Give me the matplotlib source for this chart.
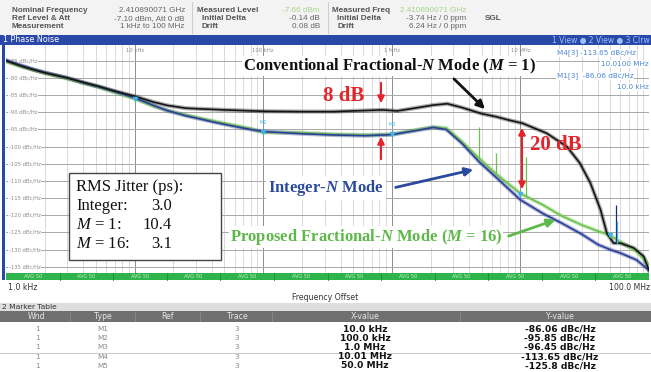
import numpy as np
import matplotlib
matplotlib.use("Agg")
import matplotlib.pyplot as plt
from matplotlib.patches import Rectangle
from matplotlib.transforms import blended_transform_factory
from matplotlib.ticker import LogLocator, NullFormatter

plt.rcParams['mathtext.fontset'] = 'custom'
plt.rcParams['mathtext.it'] = 'Liberation Serif:italic'
plt.rcParams['mathtext.bf'] = 'Liberation Serif:italic:bold'
plt.rcParams['mathtext.rm'] = 'Liberation Serif'

# ---------------- data ----------------
freq_conv = [1e3, 1.3e3, 1.6e3, 2e3, 3e3, 4e3, 5.3e3, 7e3, 1e4, 1.4e4, 1.8e4, 2.5e4,
             3.2e4, 5e4, 7e4, 1e5, 2e5, 3.5e5, 6e5, 8.5e5, 1.1e6, 1.5e6, 2.1e6, 2.7e6,
             3.5e6, 5e6, 6.5e6, 8e6, 1.04e7, 1.6e7, 2.3e7, 2.9e7, 3.5e7, 4.2e7, 4.7e7,
             5.3e7, 6e7, 7.6e7, 9.1e7, 1e8]
pn_conv = [-75.0, -76.5, -77.5, -78.5, -80.0, -81.3, -82.5, -83.8, -85.3, -87.0, -88.0, -88.8,
           -89.0, -89.3, -89.5, -89.7, -89.8, -89.8, -89.5, -89.3, -89.6, -88.8, -87.9, -87.5,
           -88.6, -90.4, -91.3, -92.2, -93.2, -96.1, -100.0, -104.8, -110.6, -118.4, -125.2,
           -128.1, -128.1, -129.5, -132.0, -136.0]

freq_m16 = [1e3, 1.3e3, 1.6e3, 2e3, 3e3, 4e3, 5.3e3, 7e3, 1e4, 1.4e4, 1.8e4, 2.5e4,
            3.2e4, 4.3e4, 5.8e4, 8e4, 1e5, 1.9e5, 3.5e5, 6.3e5, 1e6, 1.5e6, 2.1e6, 2.65e6,
            3.5e6, 4.8e6, 6.5e6, 1e7, 1.5e7, 2.1e7, 3e7, 4e7, 5e7, 6e7, 8e7, 1e8]
pn_m16 = [-75.2, -76.6, -77.6, -78.6, -80.2, -81.5, -82.7, -84.2, -86.06, -88.2, -89.5, -90.8,
          -91.7, -92.7, -93.7, -94.8, -95.85, -95.9, -96.4, -96.6, -96.45, -95.2, -94.3, -94.6,
          -98.5, -103.5, -108.0, -113.65, -117.0, -120.2, -122.8, -124.6, -125.8, -127.8, -130.5, -134.5]

freq_int = [1e3, 1.3e3, 1.6e3, 2e3, 3e3, 4e3, 5.3e3, 7e3, 1e4, 1.4e4, 1.8e4, 2.5e4,
            3.2e4, 4.3e4, 5.8e4, 8e4, 1e5, 1.9e5, 3.5e5, 6.3e5, 1e6, 1.5e6, 2.1e6, 2.65e6,
            3.5e6, 4.8e6, 6.5e6, 1e7, 1.5e7, 2.1e7, 3e7, 4e7, 5e7, 6e7, 8e7, 1e8]
pn_int = [-74.8, -76.3, -77.4, -78.4, -80.0, -81.4, -82.6, -84.0, -85.8, -88.0, -89.5, -91.0,
          -91.9, -93.0, -94.0, -95.0, -95.6, -96.2, -96.6, -96.8, -96.5, -95.4, -94.4, -95.0,
          -99.0, -104.5, -109.0, -115.5, -119.5, -122.3, -125.5, -128.5, -130.0, -131.0, -133.0, -136.0]

# spurs
spur_freq = [4.8e6, 6.5e6, 1.11e7, 5.5e7, 5.6e7]
spur_low = [-104.0, -108.0, -114.5, -128.0, -128.5]
spur_high = [-94.2, -101.8, -102.9, -117.0, -121.8]
spur_color = ['#6cc24e', '#6cc24e', '#6cc24e', '#1a2a7a', '#45b5e0']

# marker table
marker_names = ['M1', 'M2', 'M3', 'M4', 'M5']
marker_freq = [1e4, 1e5, 1e6, 1.001e7, 5e7]
marker_val = [-86.06, -95.85, -96.45, -113.65, -125.8]
marker_xlabels = ['10.0 kHz', '100.0 kHz', '1.0 MHz', '10.01 MHz', '50.0 MHz']
marker_ylabels = ['-86.06 dBc/Hz', '-95.85 dBc/Hz', '-96.45 dBc/Hz', '-113.65 dBc/Hz', '-125.8 dBc/Hz']

ytick_vals = [-75, -80, -85, -90, -95, -100, -105, -110, -115, -120, -125, -130, -135]
xtick_vals = [1e4, 1e5, 1e6, 1e7]
xtick_labels = ['10 kHz', '100 kHz', '1 MHz', '10 MHz']

jitter_labels = ['Integer:', '$M$ = 1:', '$M$ = 16:']
jitter_vals = [3.0, 10.4, 3.1]

# ---------------- figure ----------------
W, H = 651, 372
fig = plt.figure(figsize=(W / 100, H / 100), dpi=100)
fig.patch.set_facecolor('white')

AX_L, AX_R, AX_T, AX_B = 6, 649, 45, 273
ax = fig.add_axes([AX_L / W, 1 - AX_B / H, (AX_R - AX_L) / W, (AX_B - AX_T) / H])
ax.set_xscale('log')
ax.set_xlim(1e3, 1e8)
ax.set_ylim(-136.8, -70.4)
ax.set_xticks(xtick_vals)
ax.xaxis.set_minor_locator(LogLocator(base=10, subs=np.arange(2, 10)))
ax.xaxis.set_minor_formatter(NullFormatter())
ax.set_xticklabels([])
ax.set_yticks(ytick_vals)
ax.set_yticklabels([])
ax.tick_params(which='both', length=0)
ax.set_axisbelow(True)
ax.grid(True, which='major', axis='x', color='#8c8c8c', lw=0.7)
ax.grid(True, which='minor', axis='x', color='#d2d2d2', lw=0.6)
ax.grid(True, which='major', axis='y', color='#a8a8a8', lw=0.7)
for s in ax.spines.values():
    s.set_visible(False)

ytrans = blended_transform_factory(ax.transAxes, ax.transData)
for v in ytick_vals:
    ax.text(0.004, v, f"{v} dBc/Hz", transform=ytrans, fontsize=3.8, color='#8c8c8c',
            ha='left', va='center', zorder=1.5,
            bbox=dict(fc='white', ec='none', pad=0.4))
xtrans = blended_transform_factory(ax.transData, ax.transAxes)
for f, lab in zip(xtick_vals, xtick_labels):
    ax.text(f, 0.978, lab, transform=xtrans, fontsize=3.8, color='#8c8c8c',
            ha='center', va='center', zorder=1.5)

# traces
for f, v, c in [(freq_m16, pn_m16, '#6cc24e'), (freq_int, pn_int, '#2c3f98'),
                (freq_conv, pn_conv, '#151515')]:
    ax.plot(f, v, color=c, lw=3.0, alpha=0.35, solid_joinstyle='round', zorder=2)
    ax.plot(f, v, color=c, lw=1.2, solid_joinstyle='round', zorder=2.1)

ax.vlines(spur_freq, spur_low, spur_high, colors=spur_color, lw=0.9, zorder=2.2)

ax.plot(marker_freq, marker_val, linestyle='none', marker='v', ms=3, color='#40b4e6', zorder=3)
for f, v, n in zip(marker_freq[1:3], marker_val[1:3], marker_names[1:3]):
    ax.text(f, v + 3.0, n, fontsize=3.5, color='#40b4e6', ha='center', va='center', zorder=3)

# ---------------- overlay in pixel coordinates ----------------
ov = fig.add_axes([0, 0, 1, 1], facecolor='none')
ov.set_xlim(0, W)
ov.set_ylim(H, 0)
ov.axis('off')

# header
ov.add_patch(Rectangle((0, 0), W, 35, fc='#f3f3f3', ec='none'))
for xs in (192, 328):
    ov.plot([xs, xs], [2, 33], color='#cfcfcf', lw=0.8)
hdr = [("Nominal Frequency", "2.410890071 GHz", "Measured Level", "-7.66 dBm", "Measured Freq", "2.410890071 GHz"),
       ("Ref Level & Att", "-7.10 dBm, Att 0 dB", "Initial Delta", "-0.14 dB", "Initial Delta", "-3.74 Hz / 0 ppm"),
       ("Measurement", "1 kHz to 100 MHz", "Drift", "0.08 dB", "Drift", "6.24 Hz / 0 ppm")]
hfont = dict(family='Liberation Sans', fontsize=5.9, va='center')
for i, (l1, v1, l2, v2, l3, v3) in enumerate(hdr):
    y = 10 + i * 8.5
    ind = 0 if i == 0 else 5
    ov.text(12, y, l1, color='#555555', fontweight='bold', ha='left', **hfont)
    ov.text(185, y, v1, color='#666666', ha='right', **hfont)
    ov.text(197 + ind, y, l2, color='#555555', fontweight='bold', ha='left', **hfont)
    ov.text(320, y, v2, color='#a6d48a' if i == 0 else '#666666', ha='right', **hfont)
    ov.text(332 + ind, y, l3, color='#555555', fontweight='bold', ha='left', **hfont)
    ov.text(466, y, v3, color='#a6d48a' if i == 0 else '#666666', ha='right', **hfont)
ov.text(485, 18.5, "SGL", color='#555555', fontweight='bold', ha='left', **hfont)

# blue title bar
ov.add_patch(Rectangle((0, 35), W, 10, fc='#2a48a8', ec='none'))
ov.text(3, 40, "1 Phase Noise", color='white', fontsize=5.8, ha='left', va='center')
ov.text(650, 40, "1 View \u25CF 2 View \u25CF 3 Clrw", color='#9cc0ff', fontsize=5.5,
        ha='right', va='center')
ov.add_patch(Rectangle((2, 45), 3, 235, fc='#2a48a8', ec='none'))

# marker readout (top right)
rd = dict(fontsize=5.2, color='#4a86d8', va='center',
          bbox=dict(fc='white', ec='none', pad=0.6))
ov.text(557, 53, f"{marker_names[3]}[3] {marker_val[3]:.2f} dBc/Hz", ha='left', **rd)
ov.text(649, 64, f"{marker_freq[3] / 1e6:.4f} MHz", ha='right', **rd)
ov.text(557, 76, f"{marker_names[0]}[3]  {marker_val[0]:.2f} dBc/Hz", ha='left', **rd)
ov.text(649, 87, f"{marker_freq[0] / 1e3:.1f} kHz", ha='right', **rd)

# green AVG bar
ov.add_patch(Rectangle((AX_L, 273), AX_R - AX_L, 7, fc='#2fb34b', ec='none'))
seg = (AX_R - AX_L) / 12
for k in range(12):
    ov.text(AX_L + seg * (k + 0.5), 276.5, "AVG 50", fontsize=3.6, color='#c9f0c9',
            ha='center', va='center')
    if k > 0:
        ov.plot([AX_L + seg * k] * 2, [273, 280], color='#1f8a36', lw=0.6)

ov.text(8, 287, "1.0 kHz", fontsize=5.6, color='#333333', ha='left', va='center')
ov.text(650, 287, "100.0 MHz", fontsize=5.6, color='#333333', ha='right', va='center')
ov.text(325, 297.5, "Frequency Offset", fontsize=5.6, color='#333333', ha='center', va='center')

# marker table
ov.add_patch(Rectangle((0, 303), W, 8, fc='#dedede', ec='none'))
ov.text(2, 307, "2 Marker Table", fontsize=5.4, color='#333333', ha='left', va='center')
ov.add_patch(Rectangle((0, 311), W, 11, fc='#707070', ec='none'))
cols = [37, 103, 167, 237, 365, 560]
for xc, lab in zip(cols, ['Wnd', 'Type', 'Ref', 'Trace', 'X-value', 'Y-value']):
    ov.text(xc, 316.5, lab, fontsize=5.6, color='#e6e6e6', ha='center', va='center')
for xs in (70, 135, 200, 272, 460):
    ov.plot([xs, xs], [312, 321], color='#8a8a8a', lw=0.6)
for i in range(5):
    y = 329 + i * 9.2
    ov.text(cols[0], y, "1", fontsize=5.2, color='#8a8a8a', ha='center', va='center')
    ov.text(cols[1], y, marker_names[i], fontsize=5.2, color='#8a8a8a', ha='center', va='center')
    ov.text(cols[3], y, "3", fontsize=5.2, color='#8a8a8a', ha='center', va='center')
    ov.text(cols[4], y, marker_xlabels[i], fontsize=6.6, fontweight='bold', color='#111111',
            ha='center', va='center')
    ov.text(cols[5], y, marker_ylabels[i], fontsize=6.6, fontweight='bold', color='#111111',
            ha='center', va='center')
ov.plot([0, W], [352.8, 352.8], color='#cccccc', lw=0.8)

# ---------------- annotations ----------------
serif_b = dict(family='Liberation Serif', fontweight='bold', ha='center', va='center')
red = '#e5232b'
ov.text(389, 66, r"Conventional Fractional-$\mathbf{N}$ Mode ($\mathbf{M}$ = 1)", fontsize=12,
        color='#111111', bbox=dict(fc='white', ec='none', pad=0.5), **serif_b)
ov.annotate('', xy=(487, 111), xytext=(452, 77),
            arrowprops=dict(arrowstyle='-|>', lw=2.0, color='#111111', mutation_scale=12))

ov.text(344, 96, "8 dB", fontsize=15, color=red, **serif_b)
ov.annotate('', xy=(381, 106), xytext=(381, 80),
            arrowprops=dict(arrowstyle='-|>', lw=1.5, color=red, mutation_scale=10))
ov.annotate('', xy=(381, 134), xytext=(381, 162),
            arrowprops=dict(arrowstyle='-|>', lw=1.5, color=red, mutation_scale=10))

ov.text(556, 145, "20 dB", fontsize=15, color=red, **serif_b)
ov.annotate('', xy=(522, 192), xytext=(522, 125),
            arrowprops=dict(arrowstyle='<|-|>', lw=1.5, color=red, mutation_scale=10))

blue = '#2b4a9e'
ov.text(326, 188, r"Integer-$\mathbf{N}$ Mode", fontsize=12, color=blue,
        bbox=dict(fc='white', ec='none', pad=1.5), **serif_b)
ov.annotate('', xy=(476, 169), xytext=(393, 188),
            arrowprops=dict(arrowstyle='-|>', lw=2.0, color=blue, mutation_scale=12))

green = '#5cb848'
ov.text(366, 237, r"Proposed Fractional-$\mathbf{N}$ Mode ($\mathbf{M}$ = 16)", fontsize=12,
        color=green, bbox=dict(fc='white', ec='none', pad=0.5), **serif_b)
ov.annotate('', xy=(558, 219), xytext=(506, 237),
            arrowprops=dict(arrowstyle='-|>', lw=2.0, color=green, mutation_scale=12))

# jitter box
ov.add_patch(Rectangle((69, 173), 152, 87, fc='white', ec='#444444', lw=1.0, zorder=5))
jt = dict(family='Liberation Serif', fontsize=12, color='#111111', va='center', zorder=6)
ov.text(76, 187, "RMS Jitter (ps):", ha='left', **jt)
for i, (lab, val) in enumerate(zip(jitter_labels, jitter_vals)):
    y = 206 + i * 19
    ov.text(76, y, lab, ha='left', **jt)
    ov.text(172, y, f"{val:.1f}", ha='right', **jt)

fig.savefig('out.png', dpi=100, facecolor='white')
